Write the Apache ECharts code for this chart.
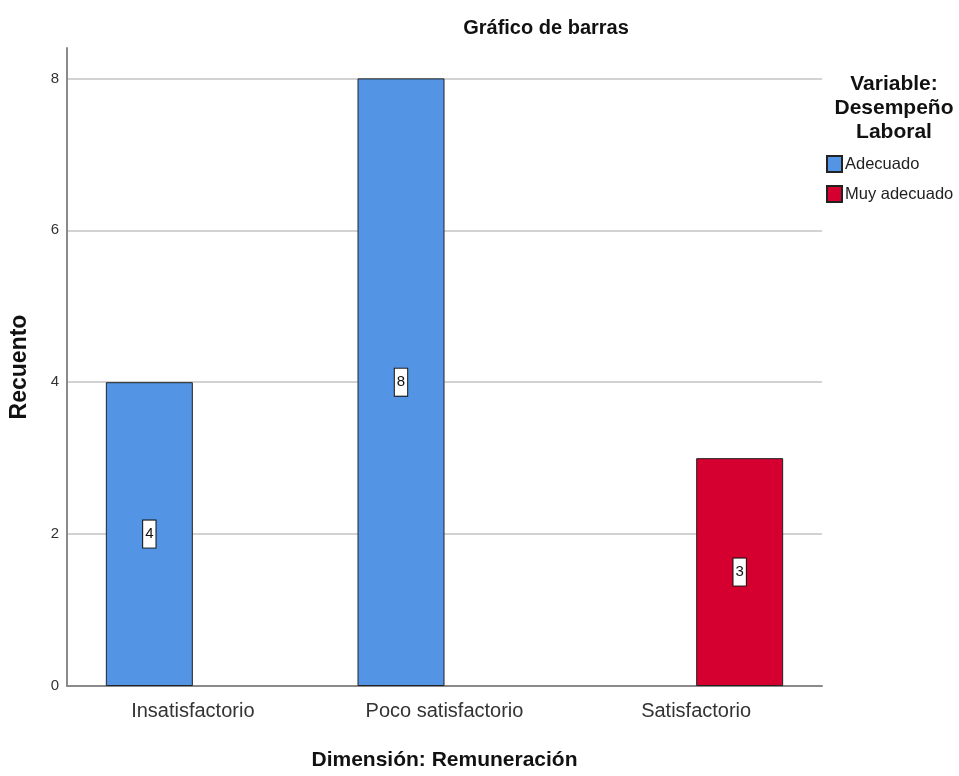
<!DOCTYPE html>
<html>
<head>
<meta charset="utf-8">
<script src="https://cdn.jsdelivr.net/npm/echarts@6/dist/echarts.min.js"></script>
<style>
html, body { margin: 0; padding: 0; background: #fff; }
#chart { width: 959px; height: 776px; }
</style>
</head>
<body>
<div id="chart"></div>
<script>
// datos del gráfico
var categorias = ['Insatisfactorio', 'Poco satisfactorio', 'Satisfactorio'];
var adecuado = [4, 8, null];
var muyAdecuado = [null, null, 3];
var yTicks = [0, 2, 4, 6, 8];

var fuente = '"Liberation Sans", Arial, sans-serif';

var chart = echarts.init(document.getElementById('chart'));

var etiqueta = {
	show: true,
	position: 'inside',
	fontFamily: fuente,
	fontSize: 15,
	color: '#111',
	lineHeight: 20,
	backgroundColor: '#fff',
	borderColor: '#111',
	borderWidth: 1,
	padding: [4, 2, 3, 2]
};

var option = {
	backgroundColor: '#fff',
	animation: false,
	title: [{
		text: 'Gráfico de barras',
		left: 541,
		top: 13,
		textAlign: 'center',
		textStyle: { fontFamily: fuente, fontWeight: 'bold', fontSize: 20, color: '#111' }
	}, {
		text: 'Variable:\nDesempeño\nLaboral',
		left: 889,
		top: 67,
		textAlign: 'center',
		textStyle: { fontFamily: fuente, fontWeight: 'bold', fontSize: 21, lineHeight: 24, color: '#111' }
	}],
	legend: {
		orient: 'vertical',
		left: 826,
		top: 155,
		padding: 0,
		itemWidth: 15,
		itemHeight: 16,
		itemGap: 12,
		icon: 'rect',
		textStyle: { fontFamily: fuente, fontSize: 16.5, color: '#222', padding: [0, 0, 0, -2] },
		data: ['Adecuado', 'Muy adecuado']
	},
	grid: { left: 66, right: 137, top: 48, bottom: 89 },
	xAxis: {
		type: 'category',
		data: categorias,
		name: 'Dimensión: Remuneración',
		nameLocation: 'middle',
		nameGap: 64,
		nameTextStyle: { fontFamily: fuente, fontWeight: 'bold', fontSize: 21, color: '#111' },
		axisLine: { lineStyle: { color: '#8a8a8a', width: 2 } },
		axisTick: { show: false },
		axisLabel: { fontFamily: fuente, fontSize: 20, color: '#333', margin: 15 }
	},
	yAxis: {
		type: 'value',
		min: 0,
		max: 8.4,
		interval: 2,
		name: 'Recuento',
		nameLocation: 'middle',
		nameGap: 36,
		nameTextStyle: { fontFamily: fuente, fontWeight: 'bold', fontSize: 23, color: '#111' },
		axisLine: { show: true, lineStyle: { color: '#8a8a8a', width: 2 } },
		axisTick: { show: false },
		axisLabel: {
			fontFamily: fuente, fontSize: 15, color: '#333', margin: 8,
			showMaxLabel: false,
			formatter: function (v) { return yTicks.indexOf(v) >= 0 ? String(v) : ''; }
		},
		splitLine: { showMaxLine: false, lineStyle: { color: '#d2d2d2', width: 2 } }
	},
	series: [{
		name: 'Adecuado',
		type: 'bar',
		data: adecuado,
		barWidth: 87,
		barGap: '0%',
		itemStyle: { color: '#5394e4', borderColor: '#222', borderWidth: 1 },
		label: etiqueta
	}, {
		name: 'Muy adecuado',
		type: 'bar',
		data: muyAdecuado,
		barWidth: 87,
		itemStyle: { color: '#d60030', borderColor: '#222', borderWidth: 1 },
		label: etiqueta
	}]
};

chart.setOption(option);
window.onresize = chart.resize;
</script>
</body>
</html>
